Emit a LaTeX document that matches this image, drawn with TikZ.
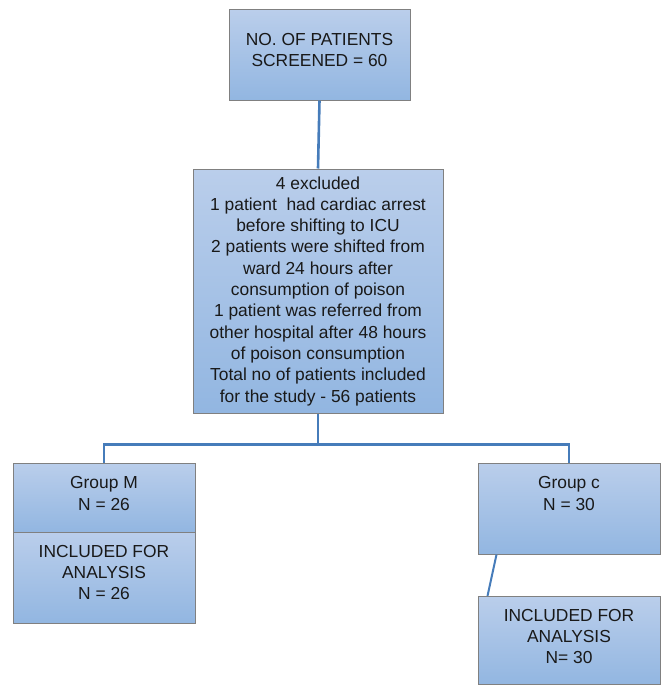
\documentclass[tikz,border=0pt]{standalone}
\usepackage{fontspec}
\setmainfont{Liberation Sans}
\usetikzlibrary{calc}
\definecolor{boxtop}{RGB}{186,206,235}
\definecolor{boxbot}{RGB}{146,182,225}
\definecolor{boxedge}{RGB}{128,128,128}
\definecolor{conn}{RGB}{70,124,186}
\definecolor{txt}{RGB}{25,25,25}
\tikzset{
  box/.style={draw=boxedge, line width=1pt, top color=boxtop, bottom color=boxbot, shading angle=0, inner sep=0pt},
  lbl/.style={align=center, text=txt, font=\fontsize{17.4}{21.3}\selectfont, inner sep=0pt},
  link/.style={draw=conn, line width=2.6pt}
}
\begin{document}
\begin{tikzpicture}[x=1pt,y=-1pt]
\useasboundingbox (0,0) rectangle (661,685);
% boxes
\node[box, minimum width=181pt, minimum height=90pt] (top) at (319.5,55) {};
\node[box, minimum width=250pt, minimum height=244pt] (excl) at (318,291) {};
\node[box, minimum width=182pt, minimum height=69pt] (gm) at (104,497.5) {};
\node[box, minimum width=182pt, minimum height=91pt] (im) at (104,577.5) {};
\node[box, minimum width=182pt, minimum height=91pt] (gc) at (569,508.5) {};
\node[box, minimum width=182pt, minimum height=88pt] (ic) at (569,640.5) {};
% texts
\node[lbl] (topT) at ($(top.center)+(0,-5)$) {NO. OF PATIENTS\\SCREENED = 60};
\node[lbl] (exclT) at (excl.center) {4 excluded\\1 patient\ \ had cardiac arrest\\before shifting to ICU\\2 patients were shifted from\\ward 24 hours after\\consumption of poison\\1 patient was referred from\\other hospital after 48 hours\\of poison consumption\\Total no of patients included\\for the study - 56 patients};
\node[lbl] (gmT) at ($(gm.center)+(0,-4)$) {Group M\\N = 26};
\node[lbl] (imT) at ($(im.center)+(0,-5)$) {INCLUDED FOR\\ANALYSIS\\N = 26};
\node[lbl] (gcT) at ($(gc.center)+(0,-15)$) {Group c\\N = 30};
\node[lbl] (icT) at ($(ic.center)+(0,-4)$) {INCLUDED FOR\\ANALYSIS\\N= 30};
% connectors
\coordinate (split) at ($(excl.south)+(0,31)$);
\path[link] (top.south) -- (excl.north);
\path[link] (excl.south) -- (split);
\path[link] (split) -| (gm.north);
\path[link] (split) -| (gc.north);
\path[draw=conn, line width=2pt] ($(gc.south west)+(19,0)$) -- ($(ic.north west)+(10,0)$);
\end{tikzpicture}
\end{document}
